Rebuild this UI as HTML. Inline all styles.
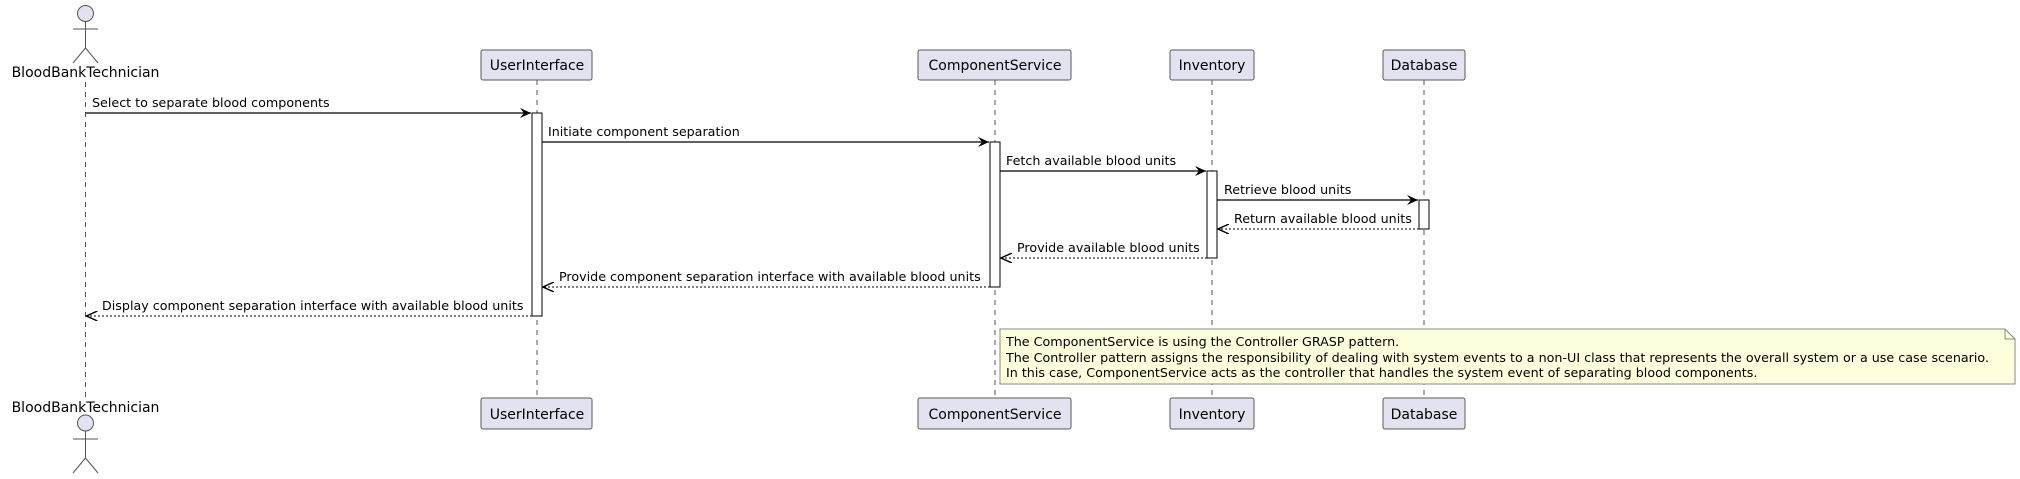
<!DOCTYPE html>
<html><head><meta charset="utf-8"><style>
html,body{margin:0;padding:0;background:#fff;}
svg{display:block;}
text{font-family:"DejaVu Sans","Liberation Sans",sans-serif;fill:#000;}
.m{font-size:12.7px;}
.p{font-size:14px;}
.ll{stroke:#555;stroke-width:1;stroke-dasharray:5,5;}
.box{fill:#E2E2F0;stroke:#5a5a5a;stroke-width:1;}
.act{fill:#fff;stroke:#000;stroke-width:1;}
.s{stroke:#000;stroke-width:1.2;fill:none;}
.d{stroke:#000;stroke-width:1;fill:none;stroke-dasharray:2,2;}
</style></head><body>
<svg width="2020" height="479" viewBox="0 0 2020 479" xmlns="http://www.w3.org/2000/svg">
<defs>
<marker id="a" markerWidth="12" markerHeight="10" refX="11" refY="5" orient="auto" markerUnits="userSpaceOnUse">
<path d="M0,0 L11,5 L0,10 L4,5 Z" fill="#000"/>
</marker>
<marker id="o" markerWidth="12" markerHeight="10" refX="11" refY="5" orient="auto" markerUnits="userSpaceOnUse">
<path d="M0,0 L11,5 L0,10" fill="none" stroke="#000" stroke-width="1.4"/>
</marker>
</defs>
<line class="ll" x1="85.5" y1="82" x2="85.5" y2="400"/>
<line class="ll" x1="537" y1="80" x2="537" y2="398"/>
<line class="ll" x1="995" y1="80" x2="995" y2="398"/>
<line class="ll" x1="1212" y1="80" x2="1212" y2="398"/>
<line class="ll" x1="1424" y1="80" x2="1424" y2="398"/>
<circle cx="85.5" cy="13.5" r="8" fill="#E2E2F0" stroke="#555"/>
<line x1="85.5" y1="21.5" x2="85.5" y2="48" stroke="#555"/>
<line x1="73" y1="29" x2="98" y2="29" stroke="#555"/>
<line x1="85.5" y1="48" x2="73" y2="63" stroke="#555"/>
<line x1="85.5" y1="48" x2="98" y2="63" stroke="#555"/>
<text class="p" x="85.5" y="77" text-anchor="middle">BloodBankTechnician</text>
<text class="p" x="85.5" y="412" text-anchor="middle">BloodBankTechnician</text>
<circle cx="85.5" cy="423" r="8" fill="#E2E2F0" stroke="#555"/>
<line x1="85.5" y1="431" x2="85.5" y2="458" stroke="#555"/>
<line x1="73" y1="439" x2="98" y2="439" stroke="#555"/>
<line x1="85.5" y1="458" x2="73" y2="473" stroke="#555"/>
<line x1="85.5" y1="458" x2="98" y2="473" stroke="#555"/>
<rect class="box" x="481" y="50" width="111" height="30" rx="2"/>
<text class="p" x="537" y="70" text-anchor="middle">UserInterface</text>
<rect class="box" x="918" y="50" width="153" height="30" rx="2"/>
<text class="p" x="995" y="70" text-anchor="middle">ComponentService</text>
<rect class="box" x="1170" y="50" width="84" height="30" rx="2"/>
<text class="p" x="1212" y="70" text-anchor="middle">Inventory</text>
<rect class="box" x="1383" y="50" width="82" height="30" rx="2"/>
<text class="p" x="1424" y="70" text-anchor="middle">Database</text>
<rect class="box" x="481" y="398" width="111" height="31" rx="2"/>
<text class="p" x="537" y="419" text-anchor="middle">UserInterface</text>
<rect class="box" x="918" y="398" width="153" height="31" rx="2"/>
<text class="p" x="995" y="419" text-anchor="middle">ComponentService</text>
<rect class="box" x="1170" y="398" width="84" height="31" rx="2"/>
<text class="p" x="1212" y="419" text-anchor="middle">Inventory</text>
<rect class="box" x="1383" y="398" width="82" height="31" rx="2"/>
<text class="p" x="1424" y="419" text-anchor="middle">Database</text>
<rect class="act" x="532" y="113" width="10" height="203"/>
<rect class="act" x="990" y="142" width="10" height="145"/>
<rect class="act" x="1207" y="171" width="10" height="87"/>
<rect class="act" x="1419" y="200" width="10" height="29"/>
<line class="s" x1="85.5" y1="113" x2="531" y2="113" marker-end="url(#a)"/>
<text class="m" x="92" y="107">Select to separate blood components</text>
<line class="s" x1="542" y1="142" x2="989" y2="142" marker-end="url(#a)"/>
<text class="m" x="548" y="136">Initiate component separation</text>
<line class="s" x1="1000" y1="171" x2="1206" y2="171" marker-end="url(#a)"/>
<text class="m" x="1006" y="165">Fetch available blood units</text>
<line class="s" x1="1217" y1="200" x2="1418" y2="200" marker-end="url(#a)"/>
<text class="m" x="1224" y="194">Retrieve blood units</text>
<line class="d" x1="1419" y1="229" x2="1218" y2="229" marker-end="url(#o)"/>
<text class="m" x="1234" y="223">Return available blood units</text>
<line class="d" x1="1207" y1="258" x2="1001" y2="258" marker-end="url(#o)"/>
<text class="m" x="1017" y="252">Provide available blood units</text>
<line class="d" x1="990" y1="287" x2="543" y2="287" marker-end="url(#o)"/>
<text class="m" x="559" y="281">Provide component separation interface with available blood units</text>
<line class="d" x1="532" y1="316" x2="86.5" y2="316" marker-end="url(#o)"/>
<text class="m" x="102" y="310">Display component separation interface with available blood units</text>
<path d="M1000,329 L2005,329 L2015,339 L2015,384 L1000,384 Z" fill="#FEFFDD" stroke="#888"/>
<path d="M2005,329 L2005,339 L2015,339" fill="none" stroke="#888"/>
<text class="m" x="1006" y="346">The ComponentService is using the Controller GRASP pattern.</text>
<text class="m" x="1006" y="362">The Controller pattern assigns the responsibility of dealing with system events to a non-UI class that represents the overall system or a use case scenario.</text>
<text class="m" x="1006" y="377">In this case, ComponentService acts as the controller that handles the system event of separating blood components.</text>
</svg>
</body></html>
